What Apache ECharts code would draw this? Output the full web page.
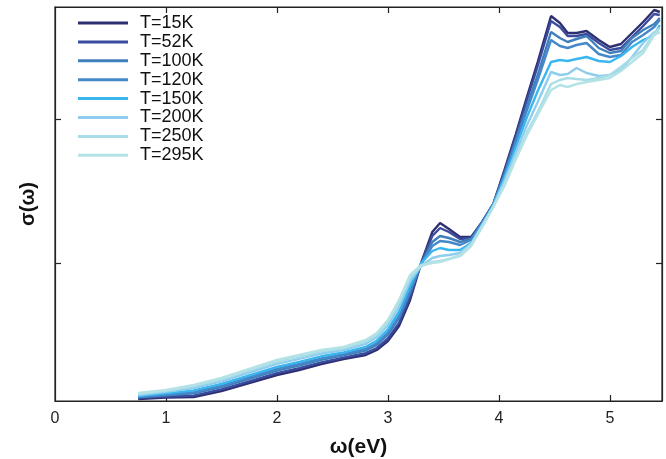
<!DOCTYPE html>
<html>
<head>
<meta charset="utf-8">
<script src="https://cdn.jsdelivr.net/npm/echarts@6/dist/echarts.min.js"></script>
<style>html,body{margin:0;padding:0;background:#fff}#c{width:666px;height:459px}</style>
</head>
<body>
<div id="c"></div>
<script>
const omega = [0.75,1.0,1.25,1.5,1.75,2.0,2.2,2.4,2.6,2.8,2.9,3.0,3.1,3.2,3.3,3.4,3.47,3.55,3.65,3.75,3.85,3.95,4.05,4.15,4.25,4.35,4.47,4.55,4.62,4.7,4.79,4.9,5.0,5.1,5.2,5.3,5.4,5.45];
const t15  = [2,3.5,4,10,18,26,31,37,42,46,51,60,75,101,138,169,178,172,164,164,179,197,231,266,303,339,385,378,368,368,370,361,354,357,368,379,391,389];
const t52  = [3,4.4,5.4,11.6,19.7,27.8,32.8,38.7,43.4,47.8,53,62.5,78.1,104,138,165,173,169,162,163,179,197,229,264,300,335,380,374,365,365,367,358,351,353,364,375,387,386];
const t100 = [4,5.7,7.6,13.9,22.2,30.5,35.5,41.2,45.6,50.5,56.1,66.3,82.8,108.5,137,159,165,163,159,162,178,197,227,260,294,326,369,363,359,362,365,353,348,350,363,371,377,383];
const t120 = [4,6.5,8.8,15.2,23.6,32,37,42.6,46.8,52,57.8,68.4,85.4,111,137,155,160,159,156,161,178,196,225,257,290,321,361,355,353,356,358,347,344,346,359,366,374,381];
const t150 = [5,7.6,10.6,17.1,25.7,34.2,39.2,44.7,48.6,54.2,60.3,71.5,89.3,115,138,150,153,151,151,158,177,196,223,253,283,310,339,341,340,342,344,340,339,345,354,361,366,376];
const t200 = [6,9.1,13,19.7,28.5,37.2,42.2,47.5,51,57.2,63.7,75.7,94.5,120,135,143,145,146,148,157,176,195,220,248,275,299,329,326,327,333,328,325,326,331,344,358,369,368];
const t250 = [7,10.2,14.8,21.7,30.6,39.5,44.5,49.6,52.8,59.5,66.3,78.9,98.4,123.5,135,139,140,142,145,155,174,194,217,243,268,289,317,321,323,322,321,323,326,334,343,351,368,373];
const t295 = [8,11,16,23,32,41,46,51,54,61,68,81,101,126,136,138,139,142,146,156,175,194,215,241,265,286,311,316,314,317,319,321,323,330,339,348,366,369];
const seriesNames = ['T=15K','T=52K','T=100K','T=120K','T=150K','T=200K','T=250K','T=295K'];
const xTicks = [1,2,3,4,5];
const yTicks = [138,282];

const allData = [t15,t52,t100,t120,t150,t200,t250,t295];
const colors = ['#2e2f70','#3a4b9e','#3f7fbb','#4588c9','#3ab6ee','#8fcdef','#a8dde8','#b5e3e5'];

const chart = echarts.init(document.getElementById('c'), null, {renderer:'canvas'});
const axisLineStyle = {color:'#222', width:1.2};
const font = 'Liberation Sans, Arial, Helvetica, sans-serif';

const lineSeries = allData.map((arr,i)=>({
  name:seriesNames[i], type:'line', xAxisIndex:0, yAxisIndex:0,
  data: omega.map((w,j)=>[w, arr[j]]),
  showSymbol:false, symbol:'none', smooth:false,
  color:colors[i],
  lineStyle:{width:2.4, color:colors[i]},
  itemStyle:{color:colors[i]}
}));
lineSeries.push({type:'line', xAxisIndex:1, yAxisIndex:1, data:[], symbol:'none', silent:true});

chart.setOption({
  animation:false,
  textStyle:{fontFamily:font},
  grid:{left:55, right:4, top:7, bottom:58, containLabel:false, outerBoundsMode:'none',
        show:true, borderColor:'#222', borderWidth:1.2, backgroundColor:'transparent'},
  legend:{
    orient:'vertical', left:78, top:14, padding:0, itemWidth:50, itemHeight:3, itemGap:0.9,
    icon:'rect', data:seriesNames,
    textStyle:{fontSize:18, color:'#111', fontFamily:font, lineHeight:18, padding:[0,0,0,7]}
  },
  xAxis:[{
    type:'value', min:0, max:5.47, interval:1, position:'bottom',
    axisLine:{show:true, onZero:false, lineStyle:axisLineStyle},
    axisTick:{show:true, inside:true, length:6, lineStyle:axisLineStyle, customValues:xTicks},
    axisLabel:{show:true, fontSize:16, color:'#222', margin:10, fontFamily:font, showMaxLabel:false},
    splitLine:{show:false},
    name:'ω(eV)', nameLocation:'middle', nameGap:36,
    nameTextStyle:{fontSize:21, fontWeight:'bold', color:'#111', fontFamily:font}
  },{
    type:'value', min:0, max:5.47, interval:1, position:'top',
    axisLine:{show:true, onZero:false, lineStyle:axisLineStyle},
    axisTick:{show:true, inside:true, length:6, lineStyle:axisLineStyle, customValues:xTicks},
    axisLabel:{show:false}, splitLine:{show:false}
  }],
  yAxis:[{
    type:'value', min:0, max:394, position:'left',
    axisLine:{show:true, onZero:false, lineStyle:axisLineStyle},
    axisTick:{show:true, inside:true, length:6, lineStyle:axisLineStyle, customValues:yTicks},
    axisLabel:{show:false}, splitLine:{show:false},
    name:'σ(ω)', nameLocation:'middle', nameGap:17, nameRotate:90,
    nameTextStyle:{fontSize:20, fontWeight:'bold', color:'#111', fontFamily:font}
  },{
    type:'value', min:0, max:394, position:'right',
    axisLine:{show:true, onZero:false, lineStyle:axisLineStyle},
    axisTick:{show:true, inside:true, length:6, lineStyle:axisLineStyle, customValues:yTicks},
    axisLabel:{show:false}, splitLine:{show:false}
  }],
  series: lineSeries
});
</script>
</body>
</html>
